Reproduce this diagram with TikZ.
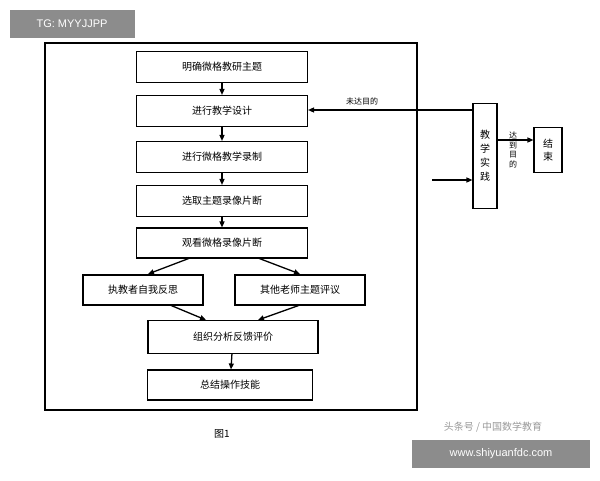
\documentclass[tikz,border=0pt]{standalone}
\usepackage{fontspec}
\setmainfont{Noto Sans CJK SC}
\newfontfamily\latin{Liberation Sans}
\usetikzlibrary{arrows.meta}
\begin{document}
\begin{tikzpicture}[x=1pt,y=-1pt,
  bx/.style={draw,line width=1.1pt,font=\fontsize{10}{12}\selectfont,inner sep=0pt},
  ar/.style={-{Triangle[length=6pt,width=5pt]},line width=1.3pt},
  wm/.style={fill=black!45,text=white,font=\latin\fontsize{11}{13}\selectfont,inner sep=0pt}]
\useasboundingbox (0,0) rectangle (600,480);
\node[wm,minimum width=125pt,minimum height=28pt] (w1) at (72,24) {TG: MYYJJPP};
\draw[line width=1.8pt] (45,43) rectangle (417,410);
\node[bx,minimum width=171pt,minimum height=31pt] (b1) at (222,67) {明确微格教研主题};
\node[bx,minimum width=171pt,minimum height=31pt] (b2) at (222,111) {进行教学设计};
\node[bx,minimum width=171pt,minimum height=31pt] (b3) at (222,157) {进行微格教学录制};
\node[bx,minimum width=171pt,minimum height=31pt] (b4) at (222,201) {选取主题录像片断};
\node[bx,minimum width=171pt,minimum height=30pt] (b5) at (222,243) {观看微格录像片断};
\node[bx,minimum width=120pt,minimum height=30pt] (b6) at (143,290) {执教者自我反思};
\node[bx,minimum width=130pt,minimum height=30pt] (b7) at (300,290) {其他老师主题评议};
\node[bx,minimum width=170pt,minimum height=33pt] (b8) at (233,337) {组织分析反馈评价};
\node[bx,minimum width=165pt,minimum height=30pt] (b9) at (230,385) {总结操作技能};
\node[bx,minimum width=24pt,minimum height=105pt,align=center,font=\fontsize{10}{14}\selectfont] (p) at (485,156) {教\\学\\实\\践};
\node[bx,minimum width=28pt,minimum height=45pt,align=center,font=\fontsize{10}{13}\selectfont] (e) at (548,150) {结\\束};
\draw[ar] (b1) -- (b2);
\draw[ar] (b2) -- (b3);
\draw[ar] (b3) -- (b4);
\draw[ar] (b4) -- (b5);
\draw[ar] (190,258) -- (148,274);
\draw[ar] (258,258) -- (300,274);
\draw[ar] (170,305) -- (206,320);
\draw[ar] (300,305) -- (258,320);
\draw[ar] (b8) -- (b9);
\draw[ar] (p.west |- 0,110) -- (b2.east |- 0,110);
\node[font=\fontsize{8}{10}\selectfont] (l1) at (362,101) {未达目的};
\coordinate (c1) at (432,180);
\draw[ar] (c1) -- (p.west |- c1);
\draw[ar] (p.east |- 0,140) -- (e.west |- 0,140);
\node[font=\fontsize{8}{9.5}\selectfont,align=center] (l2) at (513,150) {达\\到\\目\\的};
\node[font=\fontsize{10}{12}\selectfont] (f) at (222,434) {图1};
\node[text=black!40,font=\fontsize{10}{12}\selectfont] (t2) at (493,427) {头条号 / 中国数学教育};
\node[wm,minimum width=178pt,minimum height=28pt] (w2) at (501,454) {www.shiyuanfdc.com};
\end{tikzpicture}
\end{document}
